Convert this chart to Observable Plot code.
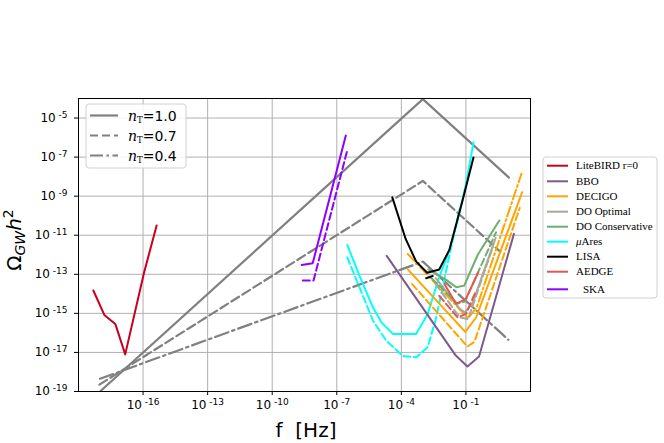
<!DOCTYPE html>
<html><head><meta charset="utf-8">
<script src="https://cdn.jsdelivr.net/npm/d3@7"></script>
<script src="https://cdn.jsdelivr.net/npm/@observablehq/plot@0.6"></script>
<style>
body{margin:0;background:#fff}
svg{font-family:"DejaVu Sans",sans-serif}
</style>
</head><body><div id="chart"></div>
<script>
// tick exponents (log10)
const xTickExp = [-16, -13, -10, -7, -4, -1];
const yTickExp = [-5, -7, -9, -11, -13, -15, -17, -19];

// curves as [log10 f, log10 Omega h^2]
const nT10 = [[-18, -19], [-3, -4.03], [1.0, -8.05]];
const nT07 = [[-18.03, -18.65], [-3, -8.22], [0.6, -11.85]];
const nT04 = [[-18, -18.35], [-3, -12.35], [0.97, -16.35]];

const liteBird = [[-18.31, -13.83], [-17.8, -15.08], [-17.29, -15.54], [-16.83, -17.1], [-15.95, -12.9], [-15.37, -10.5]];
const skaSolid = [[-8.63, -12.52], [-8.12, -12.44], [-6.58, -5.9]];
const skaDash = [[-8.58, -13.32], [-8.08, -13.32], [-6.5, -6.6]];
const muSolid = [[-6.51, -11.5], [-5.92, -13.15], [-5.32, -14.69], [-4.93, -15.46], [-4.39, -16.05], [-3.31, -16.05], [-2.78, -15.03], [-2.24, -13.15], [-1.77, -11.79], [-1.39, -10.25], [-1.0, -8.4], [-0.65, -6.25]];
const muDash = [[-6.51, -12.13], [-5.32, -15.37], [-4.7, -16.4], [-3.93, -17.18], [-3.3, -17.25], [-2.78, -16.73], [-2.4, -15.3], [-1.62, -11.28], [-1.3, -9.7]];
const lisaSolid = [[-4.42, -9.06], [-3.8, -11.19], [-3.31, -12.35], [-2.8, -12.92], [-2.24, -12.75], [-1.77, -11.75], [-1.16, -9.23], [-0.65, -7.02]];
const lisaDash = [[-2.85, -13.2], [-2.45, -13.05]];
const bbo = [[-4.68, -12.06], [-1.47, -17.16], [-0.93, -17.72], [-0.39, -17.21], [1.23, -10.93]];
const decigoSolid = [[-3.7, -12.75], [-1.03, -15.95], [-0.52, -15.2], [1.61, -8.8]];
const decigoDash = [[-3.5, -13.5], [-0.93, -16.7], [-0.6, -16.45], [1.5, -9.6]];
const decigoDashDot = [[-3.7, -11.96], [-0.9, -15.25], [-0.5, -14.7], [1.58, -7.85]];
const doOptSolid = [[-2.4, -13.2], [-1.3, -14.75], [-1.05, -14.95], [-0.7, -14.5], [0.38, -11.14]];
const doOptDash = [[-2.4, -13.5], [-1.3, -15.2], [-0.9, -15.3], [0.25, -11.6]];
const doConsSolid = [[-2.75, -12.75], [-1.9, -13.3], [-1.45, -13.66], [-1.08, -13.58], [-0.45, -12.0], [0.55, -10.25]];
const doConsDash = [[-2.6, -13.2], [-1.4, -14.5], [-1.05, -14.4], [0.4, -10.85]];
const aedgeSolid = [[-2.0, -13.5], [-1.46, -14.51], [-1.0, -14.26], [-0.43, -12.9]];
const aedgeDash = [[-2.24, -14.1], [-1.39, -15.2], [-1.0, -15.03], [-0.55, -13.9]];

const nTLabels = ["1.0", "0.7", "0.4"];
const detNames = ["LiteBIRD r=0", "BBO", "DECIGO", "DO Optimal", "DO Conservative", "\u03bcAres", "LISA", "AEDGE", "SKA"];
const detColors = ["#c8001e", "#7d5a8c", "#ffa500", "#a9a898", "#6fae6f", "#00ffff", "#000000", "#e0584f", "#8f00ff"];

const GREY = "#808080";
const DASH = "9,4", DASHDOT = "14,4,2.5,4", CDASH = "7,3.5", CDASHDOT = "10,3,2,3";
const series = [
  {pts: nT10, color: GREY, dash: null, w: 2.2},
  {pts: nT07, color: GREY, dash: DASH, w: 2.2},
  {pts: nT04, color: GREY, dash: DASHDOT, w: 2.2},
  {pts: liteBird, color: detColors[0], dash: null, w: 2},
  {pts: skaSolid, color: detColors[8], dash: null, w: 2},
  {pts: skaDash, color: detColors[8], dash: CDASH, w: 2},
  {pts: muSolid, color: detColors[5], dash: null, w: 2},
  {pts: muDash, color: detColors[5], dash: CDASH, w: 2},
  {pts: bbo, color: detColors[1], dash: null, w: 2},
  {pts: decigoDashDot, color: detColors[2], dash: CDASHDOT, w: 2},
  {pts: decigoSolid, color: detColors[2], dash: null, w: 2},
  {pts: decigoDash, color: detColors[2], dash: CDASH, w: 2},
  {pts: doOptSolid, color: detColors[3], dash: null, w: 2},
  {pts: doOptDash, color: detColors[3], dash: CDASH, w: 2},
  {pts: doConsSolid, color: detColors[4], dash: null, w: 2},
  {pts: doConsDash, color: detColors[4], dash: CDASH, w: 2},
  {pts: aedgeSolid, color: detColors[7], dash: null, w: 2},
  {pts: aedgeDash, color: detColors[7], dash: CDASH, w: 2},
  {pts: lisaSolid, color: detColors[6], dash: null, w: 2},
  {pts: lisaDash, color: detColors[6], dash: CDASH, w: 2}
];

const toRows = pts => pts.map(([a, b]) => ({f: 10 ** a, o: 10 ** b}));
const xTicks = xTickExp.map(e => 10 ** e);
const yTicks = yTickExp.map(e => 10 ** e);
const expOf = d => String(Math.round(Math.log10(d)));

const chart = Plot.plot({
  width: 664, height: 443,
  marginLeft: 78, marginRight: 134, marginTop: 98, marginBottom: 52,
  style: {fontFamily: "DejaVu Sans", fontSize: "12px", background: "white", color: "black"},
  x: {type: "log", domain: [1e-19, 1e2]},
  y: {type: "log", domain: [1e-19, 1e-4]},
  marks: [
    Plot.gridX(xTicks, {stroke: "#b0b0b0", strokeOpacity: 1, strokeWidth: 1}),
    Plot.gridY(yTicks, {stroke: "#b0b0b0", strokeOpacity: 1, strokeWidth: 1}),
    ...series.map(s => Plot.line(toRows(s.pts), {
      x: "f", y: "o", stroke: s.color, strokeWidth: s.w,
      strokeDasharray: s.dash ?? undefined, clip: true
    })),
    Plot.frame({stroke: "black", strokeWidth: 1}),
    Plot.axisX(xTicks, {tickFormat: expOf, tickSize: 4, tickPadding: 5, label: null, fontSize: 12}),
    Plot.axisY(yTicks, {tickFormat: expOf, tickSize: 4, tickPadding: 7, label: null, fontSize: 12})
  ]
});
document.getElementById("chart").appendChild(chart);

const svg = d3.select(chart);
// superscript tick labels
svg.selectAll('g[aria-label="x-axis tick label"] text, g[aria-label="y-axis tick label"] text').each(function() {
  const t = d3.select(this);
  const e = t.text().replace("\u2212", "-").replace("-", "");
  t.text(null);
  t.append("tspan").text("10");
  t.append("tspan").attr("font-size", 9).attr("dy", "-0.45em").style("white-space", "pre").text(" -" + e);
});

// axis titles
svg.append("text").attr("x", 306).attr("y", 437).attr("text-anchor", "middle")
  .attr("font-size", 20).attr("font-family", "DejaVu Sans").style("white-space", "pre").text("f  [Hz]");
const yl = svg.append("text").attr("transform", "translate(21,240) rotate(-90)")
  .attr("text-anchor", "middle").attr("font-size", 20).attr("font-family", "DejaVu Sans");
yl.append("tspan").text("\u03a9");
yl.append("tspan").attr("font-size", 14).attr("font-style", "italic").attr("dy", 4).text("GW");
yl.append("tspan").attr("font-style", "italic").attr("dy", -4).text("h");
yl.append("tspan").attr("font-size", 14).attr("dy", -8).text("2");

// left legend (nT)
const lg = svg.append("g").attr("text-anchor", "start");
lg.append("rect").attr("x", 86).attr("y", 104).attr("width", 100).attr("height", 64).attr("rx", 3)
  .attr("fill", "white").attr("fill-opacity", 0.85).attr("stroke", "#d0d0d0");
const nDash = [null, "8,4", "13,3.5,2.5,3.5"];
nTLabels.forEach((lab, i) => {
  const y = 115.5 + i * 20;
  lg.append("line").attr("x1", 90).attr("x2", 118).attr("y1", y).attr("y2", y)
    .attr("stroke", GREY).attr("stroke-width", 2.2).attr("stroke-dasharray", nDash[i]);
  const t = lg.append("text").attr("x", 128).attr("y", y + 5).attr("font-size", 14).attr("text-anchor", "start");
  t.append("tspan").attr("font-family", "DejaVu Serif").attr("font-style", "italic").text("n");
  t.append("tspan").attr("font-family", "DejaVu Serif").attr("font-size", 8.5).attr("dy", 2).text("T");
  t.append("tspan").attr("dy", -2).text("=" + lab);
});

// right legend (detectors)
const rg = svg.append("g").attr("text-anchor", "start");
rg.append("rect").attr("x", 543).attr("y", 157).attr("width", 114).attr("height", 141).attr("rx", 3)
  .attr("fill", "white").attr("stroke", "#d0d0d0");
const itemY = [165.7, 181.3, 196.3, 211.7, 226.7, 241.7, 256.7, 271.7, 289.3];
detNames.forEach((name, i) => {
  const y = itemY[i];
  rg.append("line").attr("x1", 547).attr("x2", 568).attr("y1", y).attr("y2", y)
    .attr("stroke", detColors[i]).attr("stroke-width", 2);
  const t = rg.append("text").attr("x", name === "SKA" ? 583 : 576).attr("y", y + 3.7)
    .attr("text-anchor", "start").attr("font-family", "Liberation Serif").attr("font-size", 11);
  if (name.startsWith("\u03bc")) {
    t.append("tspan").attr("font-style", "italic").text("\u03bc");
    t.append("tspan").text(name.slice(1));
  } else t.text(name);
});
</script>
</body></html>
